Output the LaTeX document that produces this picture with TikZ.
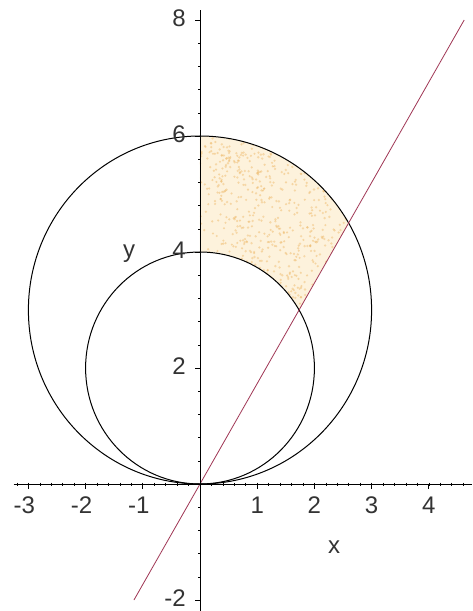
\documentclass[tikz,border=0pt]{standalone}
\usepackage{fontspec}
\setmainfont{Liberation Sans}
\definecolor{shadefill}{RGB}{253,242,220}
\definecolor{speck}{RGB}{238,185,105}
\definecolor{redline}{RGB}{160,55,85}
\begin{document}
\begin{tikzpicture}[x=57.2pt,y=58pt,
  lbl/.style={font=\fontsize{24}{28}\selectfont, inner sep=0pt, text=black!80},
  axisline/.style={draw=black, line width=0.9pt},
  curveline/.style={draw=black, line width=1pt},
  slantline/.style={draw=redline, line width=0.8pt}]
\useasboundingbox (-200pt,-127pt) rectangle (272pt,484pt);
\fill[white] (-200pt,-127pt) rectangle (272pt,484pt);
% shaded region between circles, right of y-axis, left of line
\def\regionpath{plot[domain=90:60,samples=50] ({6*sin(\x)*cos(\x)},{6*sin(\x)*sin(\x)}) -- plot[domain=60:90,samples=50] ({4*sin(\x)*cos(\x)},{4*sin(\x)*sin(\x)}) -- cycle}
\fill[shadefill] \regionpath;
\begin{scope}
  \clip \regionpath;
  \pgfmathsetseed{7}
  \foreach \i in {1,...,500} {
    \pgfmathsetmacro\rx{2.7*rnd}
    \pgfmathsetmacro\ry{2.9+3.2*rnd}
    \fill[speck, opacity=0.5] (\rx,\ry) circle (1.2pt);
  }
  \foreach \cx/\cy in {1.7/5.2,1.0/4.2,2.2/4.3,0.3/5.6,1.4/3.5,0.8/5.3} {
    \foreach \j in {1,...,40} {
      \pgfmathsetmacro\rx{\cx+0.5*rand}
      \pgfmathsetmacro\ry{\cy+0.45*rand}
      \fill[speck, opacity=0.45] (\rx,\ry) circle (1.3pt);
    }
  }
\end{scope}
% circles
\node[coordinate] (cbig) at (0,3) {};
\node[coordinate] (csmall) at (0,2) {};
\draw[curveline] (cbig) ellipse [x radius=171.6pt, y radius=174pt];
\draw[curveline] (csmall) ellipse [x radius=114.4pt, y radius=116pt];
% line y = sqrt(3) x
\coordinate (L1) at (-1.1547,-2);
\coordinate (L2) at (4.6188,8);
\draw[slantline] (L1) -- (L2);
% axes
\coordinate (xa) at (-3.26,0);
\coordinate (xb) at (4.76,0);
\coordinate (ya) at (0,-2.2);
\coordinate (yb) at (0,8.17);
\draw[axisline] (xa) -- (xb);
\draw[axisline] (ya) -- (yb);
% x ticks
\foreach \i in {-16,...,23} {
  \draw[black, line width=0.6pt] ({\i/5},0) ++(0pt,1.5pt) -- ++(0pt,-3pt);
}
\foreach \t in {-3,...,4} {
  \draw[black, line width=0.8pt] (\t,0) -- ++(0pt,-5pt);
}
% y ticks
\foreach \i in {-5,...,20} {
  \draw[black, line width=0.6pt] (0,{\i*0.4}) ++(-1.5pt,0pt) -- ++(3pt,0pt);
}
\foreach \t in {-2,0,2,4,6,8} {
  \draw[black, line width=0.8pt] (0,\t) -- ++(-5pt,0pt);
}
% x tick labels
\foreach \t/\s in {-3/{\llap{-}3},-2/{\llap{-}2},-1/{\llap{-}1},1/1,2/2,3/3,4/4} {
  \node[lbl] (xl\t) at ([yshift=-21pt]\t,0) {\s};
}
% y tick labels
\foreach \t/\s in {8/8,6/6,4/4,2/2,-2/-2} {
  \node[lbl, anchor=east] (yl\t) at ([xshift=-14pt,yshift=2pt]0,\t) {\s};
}
% axis names
\node[lbl] (xname) at (2.343,-1.095) {x};
\node[lbl] (yname) at (-1.241,3.9655) {y};
\end{tikzpicture}
\end{document}
